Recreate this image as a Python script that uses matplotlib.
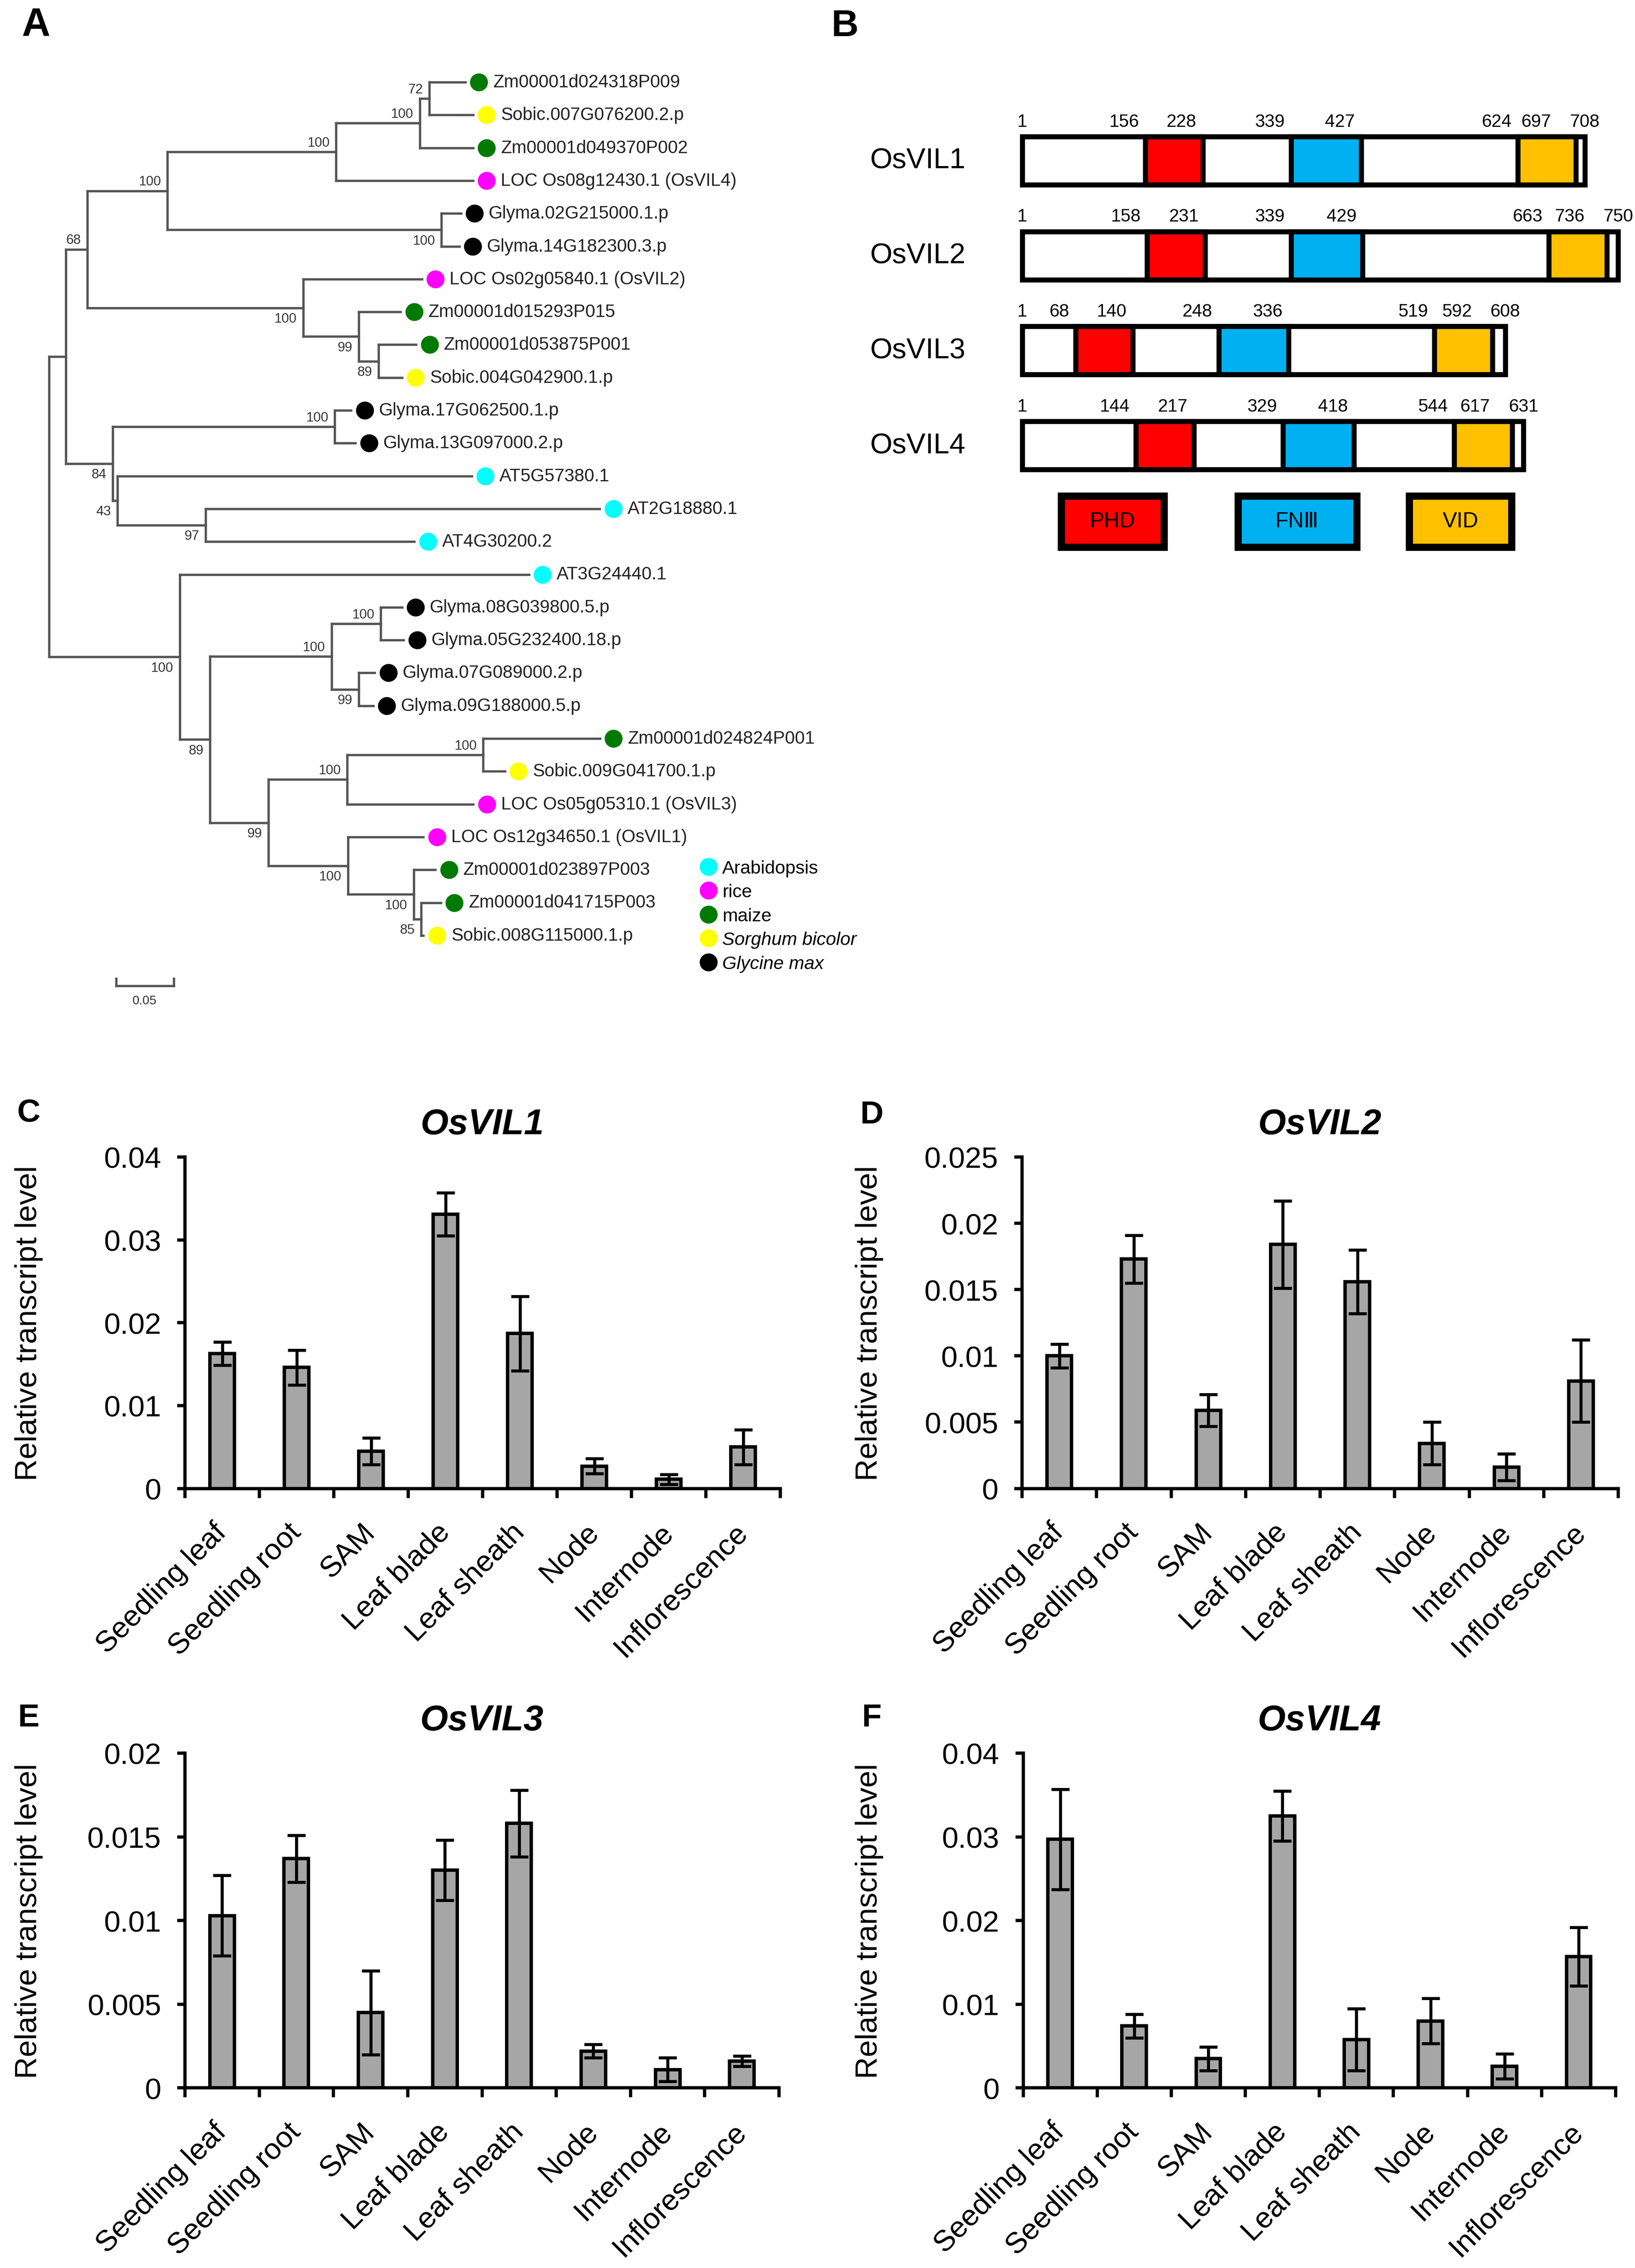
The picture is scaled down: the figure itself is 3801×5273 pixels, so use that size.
import numpy as np
import matplotlib
matplotlib.use('Agg')
import matplotlib.pyplot as plt
from matplotlib.patches import Rectangle
from matplotlib.lines import Line2D
from matplotlib.ticker import FuncFormatter
from matplotlib.transforms import offset_copy

plt.rcParams['font.family'] = ['Liberation Sans', 'DejaVu Sans']

# ---------------- A: tree (newick, leaves numbered top to bottom) ----------------
TREE = """
(
 (
  (
   (
    (((0:0.0313,1:0.0380)72:0.0083,2:0.0463)100:0.0726,3:0.1189)100:0.1464,
    (4:0.0170,5:0.0155)100:0.2378
   )100:0.0695,
   (6:0.1030,(7:0.0363,(8:0.0323,9:0.0203)89:0.0173)99:0.0483)100:0.1873
  )68:0.0186,
  (
   (10:0.0143,11:0.0179)100:0.1928,
   (12:0.3074,(13:0.3420,14:0.1810)97:0.0766)43:0.0043
  )84:0.0405
 ):0.0146,
 (
  15:0.3031,
  (
   (
    (16:0.0184,17:0.0196)100:0.0429,
    (18:0.0138,19:0.0125)99:0.0238
   )100:0.1054,
   (
    ((20:0.1013,21:0.0188)100:0.1181,22:0.1095)100:0.0684,
    (23:0.0655,(24:0.0188,(25:0.0171,26:0.0019)85:0.0064)100:0.0571)100:0.0691
   )99:0.0506
  )89:0.0263
 )100:0.1134
);
"""

leaf_names = ['Zm00001d024318P009', 'Sobic.007G076200.2.p', 'Zm00001d049370P002',
              'LOC Os08g12430.1 (OsVIL4)', 'Glyma.02G215000.1.p', 'Glyma.14G182300.3.p',
              'LOC Os02g05840.1 (OsVIL2)', 'Zm00001d015293P015', 'Zm00001d053875P001',
              'Sobic.004G042900.1.p', 'Glyma.17G062500.1.p', 'Glyma.13G097000.2.p',
              'AT5G57380.1', 'AT2G18880.1', 'AT4G30200.2', 'AT3G24440.1',
              'Glyma.08G039800.5.p', 'Glyma.05G232400.18.p', 'Glyma.07G089000.2.p',
              'Glyma.09G188000.5.p', 'Zm00001d024824P001', 'Sobic.009G041700.1.p',
              'LOC Os05g05310.1 (OsVIL3)', 'LOC Os12g34650.1 (OsVIL1)',
              'Zm00001d023897P003', 'Zm00001d041715P003', 'Sobic.008G115000.1.p']
leaf_species = ['maize', 'sorghum', 'maize', 'rice', 'glycine', 'glycine',
                'rice', 'maize', 'maize', 'sorghum', 'glycine', 'glycine',
                'arab', 'arab', 'arab', 'arab', 'glycine', 'glycine', 'glycine',
                'glycine', 'maize', 'sorghum', 'rice', 'rice', 'maize', 'maize', 'sorghum']
species_keys = ['arab', 'rice', 'maize', 'sorghum', 'glycine']
species_labels = ['Arabidopsis', 'rice', 'maize', 'Sorghum bicolor', 'Glycine max']
species_colors = ['#00FFFF', '#FF00FF', '#007A00', '#FFFF00', '#000000']

# ---------------- B: domains ----------------
proteins = ['OsVIL1', 'OsVIL2', 'OsVIL3', 'OsVIL4']
prot_len = [708, 750, 608, 631]
phd = [(156, 228), (158, 231), (68, 140), (144, 217)]
fn3 = [(339, 427), (339, 429), (248, 336), (329, 418)]
vid = [(624, 697), (663, 736), (519, 592), (544, 617)]
domain_names = ['PHD', 'FN\u2162', 'VID']
domain_colors = ['#FF0000', '#00B0F0', '#FFC000']

# ---------------- C-F: expression ----------------
tissues = ['Seedling leaf', 'Seedling root', 'SAM', 'Leaf blade', 'Leaf sheath',
           'Node', 'Internode', 'Inflorescence']
vil1_mean = [0.0163, 0.0146, 0.0045, 0.0331, 0.0187, 0.0027, 0.0011, 0.0050]
vil1_err = [0.0014, 0.0021, 0.0016, 0.0026, 0.0045, 0.0009, 0.0006, 0.0021]
vil2_mean = [0.0100, 0.0173, 0.0059, 0.0184, 0.0156, 0.0034, 0.0016, 0.0081]
vil2_err = [0.0009, 0.0018, 0.0012, 0.0033, 0.0024, 0.0016, 0.0010, 0.0031]
vil3_mean = [0.0103, 0.0137, 0.0045, 0.0130, 0.0158, 0.0022, 0.0011, 0.0016]
vil3_err = [0.0024, 0.0014, 0.0025, 0.0018, 0.0020, 0.0004, 0.0007, 0.0003]
vil4_mean = [0.0297, 0.0074, 0.0035, 0.0325, 0.0058, 0.0080, 0.0026, 0.0157]
vil4_err = [0.0060, 0.0014, 0.0014, 0.0030, 0.0037, 0.0027, 0.0015, 0.0035]
vil1_ticks = [0, 0.01, 0.02, 0.03, 0.04]
vil2_ticks = [0, 0.005, 0.01, 0.015, 0.02, 0.025]
vil3_ticks = [0, 0.005, 0.01, 0.015, 0.02]
vil4_ticks = [0, 0.01, 0.02, 0.03, 0.04]

W, H = 3801, 5274
fig = plt.figure(figsize=(W / 300, H / 300), dpi=300)


def rect(left, top, right, bottom):
    return [left / W, 1 - bottom / H, (right - left) / W, (bottom - top) / H]


def parse_newick(s):
    s = ''.join(s.split())
    pos = 0

    def node():
        nonlocal pos
        n = {'children': [], 'name': '', 'len': 0.0}
        if s[pos] == '(':
            pos += 1
            while True:
                n['children'].append(node())
                c = s[pos]
                pos += 1
                if c == ')':
                    break
        start = pos
        while s[pos] not in ':,);':
            pos += 1
        n['name'] = s[start:pos]
        if s[pos] == ':':
            pos += 1
            start = pos
            while s[pos] not in ',);':
                pos += 1
            n['len'] = float(s[start:pos])
        return n
    return node()


def layout(n, x0):
    n['x'] = x0 + n['len']
    if n['children']:
        for c in n['children']:
            layout(c, n['x'])
        n['y'] = (n['children'][0]['y'] + n['children'][-1]['y']) / 2
    else:
        n['y'] = int(n['name'])


# ---------- panel A ----------
ROOT_X, PX_UNIT, LEAF_Y0, LEAF_DY = 113.9, 2679.0, 192.0, 76.3
axa = fig.add_axes(rect(0, 0, 1940, 2400))
axa.set_xlim(-ROOT_X / PX_UNIT, (1940 - ROOT_X) / PX_UNIT)
axa.set_ylim((2400 - LEAF_Y0) / LEAF_DY, -LEAF_Y0 / LEAF_DY)
axa.axis('off')

tree = parse_newick(TREE)
layout(tree, 0.0)
branch_col = '#555555'
dot_tr = offset_copy(axa.transData, fig=fig, x=7.6, y=0, units='points')


def draw(n, top_child):
    if n['children']:
        ys = [c['y'] for c in n['children']]
        axa.plot([n['x'], n['x']], [ys[0], ys[-1]], color=branch_col, lw=1.3,
                 solid_capstyle='projecting')
        for i, c in enumerate(n['children']):
            axa.plot([n['x'], c['x']], [c['y'], c['y']], color=branch_col, lw=1.3,
                     solid_capstyle='projecting')
            draw(c, i == 0)
        if n['name']:
            axa.annotate(n['name'], (n['x'], n['y']),
                         xytext=(-3.5, 1.5 if top_child else -2.5), textcoords='offset points',
                         ha='right', va='bottom' if top_child else 'top',
                         fontsize=7.5, color='#333333')
    else:
        i = int(n['name'])
        col = species_colors[species_keys.index(leaf_species[i])]
        axa.plot([n['x']], [n['y']], 'o', color=col, ms=9, mec=col, transform=dot_tr)
        axa.annotate(leaf_names[i], (n['x'], n['y']), xytext=(15.5, 0),
                     textcoords='offset points', ha='left', va='center',
                     fontsize=10, color='#222222')


draw(tree, True)

# scale bar
sb_x0, sb_y = (80.5 * 3.349 - ROOT_X) / PX_UNIT, 27.53
axa.plot([sb_x0, sb_x0 + 0.05], [sb_y, sb_y], color=branch_col, lw=1.3)
for xx in (sb_x0, sb_x0 + 0.05):
    axa.plot([xx, xx], [sb_y, sb_y - 0.22], color=branch_col, lw=1.3)
axa.text(sb_x0 + 0.025, sb_y + 0.45, '0.05', ha='center', va='center', fontsize=7,
         color='#333333')

handles = [Line2D([], [], ls='', marker='o', ms=9, color=c) for c in species_colors]
leg = axa.legend(handles, species_labels, loc='upper left', frameon=False,
                 bbox_to_anchor=(1630 / W, 1 - 2000 / H), bbox_transform=fig.transFigure,
                 fontsize=10.3, handlelength=0.8, handletextpad=0.35, borderpad=0,
                 labelspacing=0.36, borderaxespad=0)
for t in leg.get_texts()[3:]:
    t.set_style('italic')

# ---------- panel B ----------
AA_X0, PX_AA, ROW0, ROW_DY = 2376.7, 1.85, 375.0, 220.7
axb = fig.add_axes(rect(1940, 0, 3801, 1300))
axb.set_xlim((1940 - AA_X0) / PX_AA + 1, (3801 - AA_X0) / PX_AA + 1)
axb.set_ylim((1300 - ROW0) / ROW_DY, -ROW0 / ROW_DY)
axb.axis('off')
hh = 0.507
for r, name in enumerate(proteins):
    L = prot_len[r]
    axb.add_patch(Rectangle((1, r - hh / 2), L - 1, hh, fc='white', ec='black', lw=2.8))
    marks = []
    for dom, col in zip((phd[r], fn3[r], vid[r]), domain_colors):
        axb.add_patch(Rectangle((dom[0], r - hh / 2), dom[1] - dom[0], hh, fc=col,
                                ec='black', lw=2.8))
        marks += list(dom)
    ty = r - hh / 2 - 0.07
    axb.text(1, ty, '1', ha='center', va='bottom', fontsize=10)
    for k, m in enumerate(marks):
        xx = min(m, L - 34) if k == len(marks) - 1 else m
        axb.text(xx - 8, ty, str(m), ha='right', va='bottom', fontsize=10)
    axb.text(L, ty, str(L), ha='center', va='bottom', fontsize=10)
    axb.text((2023 - AA_X0) / PX_AA + 1, r, name, ha='left', va='center', fontsize=16)

leg_y = (1213.5 - ROW0) / ROW_DY
leg_h = 119 / ROW_DY
for (x0, x1), nm, col in zip([(50, 179), (272, 421), (487, 616)], domain_names, domain_colors):
    axb.add_patch(Rectangle((x0, leg_y - leg_h / 2), x1 - x0, leg_h, fc=col, ec='black', lw=4))
    axb.text((x0 + x1) / 2, leg_y, nm, ha='center', va='center', fontsize=12)

# ---------- panels C-F ----------
fmt = FuncFormatter(lambda v, p: f'{v:g}')


def bar_panel(box, title, means, errs, ticks):
    ax = fig.add_axes(rect(*box))
    x = np.arange(len(tissues))
    ax.bar(x, means, width=0.33, color='#A6A6A6', edgecolor='black', linewidth=1.9,
           yerr=errs, error_kw=dict(ecolor='black', elinewidth=1.7, capsize=5,
                                    capthick=1.7, zorder=3), zorder=2)
    ax.set_xlim(-0.5, len(tissues) - 0.5)
    ax.set_ylim(0, ticks[-1])
    ax.set_yticks(ticks)
    ax.yaxis.set_major_formatter(fmt)
    ax.set_xticks(x)
    ax.set_xticklabels(tissues, rotation=45, ha='right', va='center',
                       rotation_mode='anchor', fontsize=16.5)
    ax.set_xticks(np.arange(-0.5, len(tissues)), minor=True)
    ax.tick_params(axis='x', which='major', length=0, pad=22)
    ax.tick_params(axis='x', which='minor', length=5.3, width=1.8, direction='out')
    ax.tick_params(axis='y', length=4.3, width=1.8, direction='out', labelsize=16.5, pad=9)
    for s in ('top', 'right'):
        ax.spines[s].set_visible(False)
    for s in ('left', 'bottom'):
        ax.spines[s].set_linewidth(1.8)
    ax.set_title(title, fontsize=20, fontweight='bold', style='italic', pad=13)
    return ax


panels = [((430, 2691, 1814, 3461.6), 'OsVIL1', vil1_mean, vil1_err, vil1_ticks, 66.6, 'C', (66.6, 2588)),
          ((2376, 2691, 3762, 3461.6), 'OsVIL2', vil2_mean, vil2_err, vil2_ticks, 2021, 'D', (2027, 2593)),
          ((430, 4077, 1811, 4855.4), 'OsVIL3', vil3_mean, vil3_err, vil3_ticks, 66.6, 'E', (66.6, 3995)),
          ((2378.6, 4077, 3756, 4855.4), 'OsVIL4', vil4_mean, vil4_err, vil4_ticks, 2021, 'F', (2027, 3995))]
for box, title, m, e, t, ylx, letter, lp in panels:
    bar_panel(box, title, m, e, t)
    fig.text(ylx / W, 1 - (box[1] + box[3]) / 2 / H, 'Relative transcript level',
             rotation=90, ha='center', va='center', fontsize=17)
    fig.text(lp[0] / W, 1 - lp[1] / H, letter, ha='center', va='center',
             fontsize=18, fontweight='bold')

fig.text(84 / W, 1 - 60 / H, 'A', ha='center', va='center', fontsize=22, fontweight='bold')
fig.text(1964 / W, 1 - 62 / H, 'B', ha='center', va='center', fontsize=21, fontweight='bold')

fig.savefig('out.png', dpi=300)
